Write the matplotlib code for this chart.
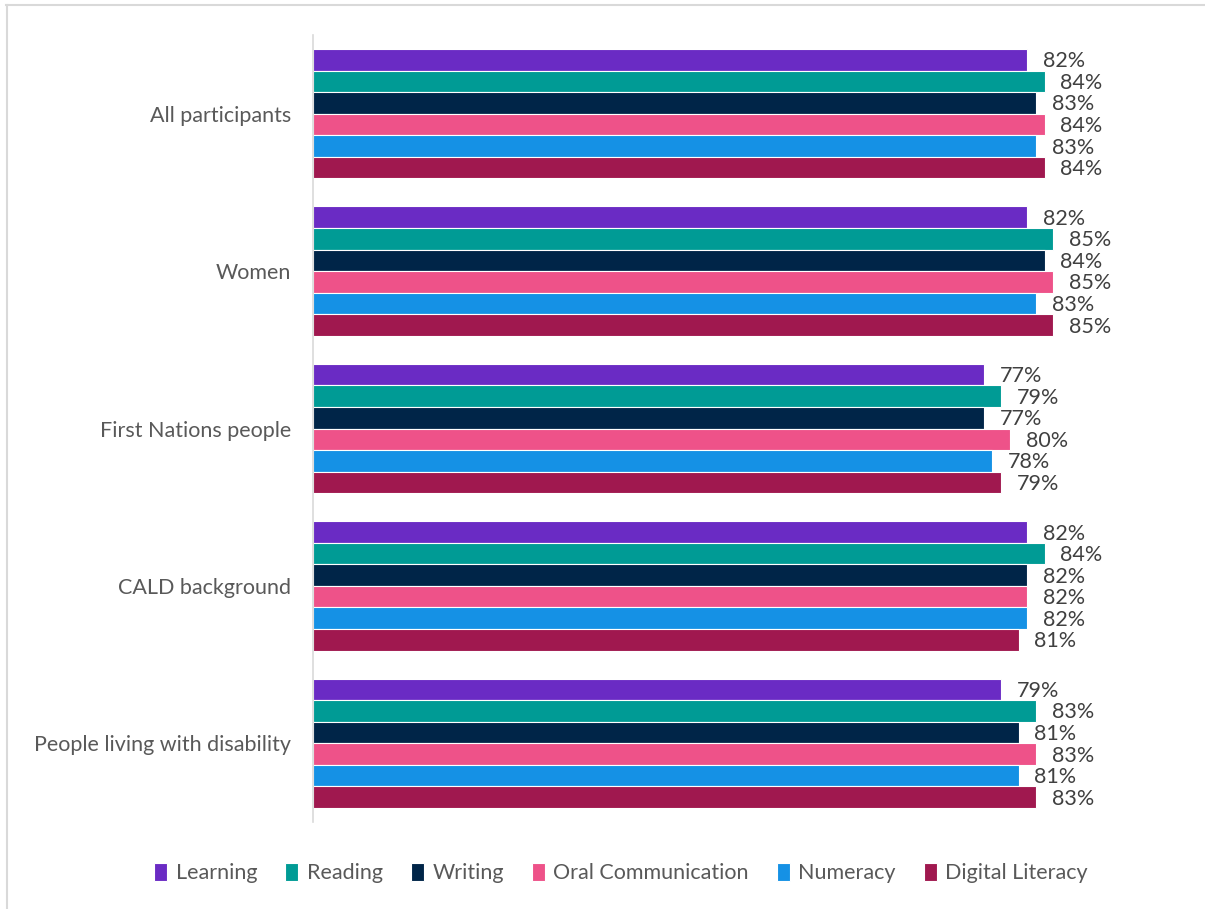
import matplotlib.pyplot as plt
import numpy as np
from matplotlib.lines import Line2D

plt.rcParams['font.family'] = ['Lato', 'DejaVu Sans']

groups = ['All participants', 'Women', 'First Nations people',
          'CALD background', 'People living with disability']
skills = ['Learning', 'Reading', 'Writing', 'Oral Communication',
          'Numeracy', 'Digital Literacy']
learning = [82, 82, 77, 82, 79]
reading = [84, 85, 79, 84, 83]
writing = [83, 84, 77, 82, 81]
oral = [84, 85, 80, 82, 83]
numeracy = [83, 83, 78, 82, 81]
digital = [84, 85, 79, 81, 83]
colors = ['#6A2BC4', '#009B95', '#002548', '#EE5289', '#1591E5', '#A0184F']

series = [learning, reading, writing, oral, numeracy, digital]

fig = plt.figure(figsize=(12.05, 9.09), dpi=100)
ax = fig.add_axes([0.2598, 0.0957, 0.7228, 0.8658])

y = np.arange(len(groups))
bh = 0.823 / len(skills)
for i, (vals, name, c) in enumerate(zip(series, skills, colors)):
    pos = y - 0.823 / 2 + bh * (i + 0.5)
    bars = ax.barh(pos, vals, height=bh, color=c, edgecolor='white',
                   linewidth=0.8, label=name)
    for b, v in zip(bars, vals):
        ax.text(v + 1.8, b.get_y() + b.get_height() / 2 + 0.01, f'{v}%',
                va='center', ha='left', fontsize=15.5, color='#404040')

ax.set_ylim(len(groups) - 0.5, -0.5)
ax.set_xlim(0, 100)
ax.set_yticks(y, labels=groups)
ax.tick_params(axis='y', length=0, labelsize=15.5, labelcolor='#595959', pad=16)
ax.set_xticks([])
for s in ['top', 'right', 'bottom']:
    ax.spines[s].set_visible(False)
ax.spines['left'].set_color('#D9D9D9')
ax.spines['left'].set_linewidth(1.2)

fig.legend(loc='center', bbox_to_anchor=(0.5155, 0.0396), ncol=6, frameon=False,
           fontsize=15.5, labelcolor='#595959', handlelength=0.6,
           handleheight=0.9, handletextpad=0.4, columnspacing=1.3)

# light frame around the chart area
fig.add_artist(Line2D([6 / 1205, 1], [1 - 5 / 909, 1 - 5 / 909],
                      color='#D9D9D9', lw=1.5, transform=fig.transFigure))
fig.add_artist(Line2D([7 / 1205, 7 / 1205], [0, 1 - 5 / 909],
                      color='#D9D9D9', lw=1.5, transform=fig.transFigure))

fig.savefig('out.png', dpi=100)
